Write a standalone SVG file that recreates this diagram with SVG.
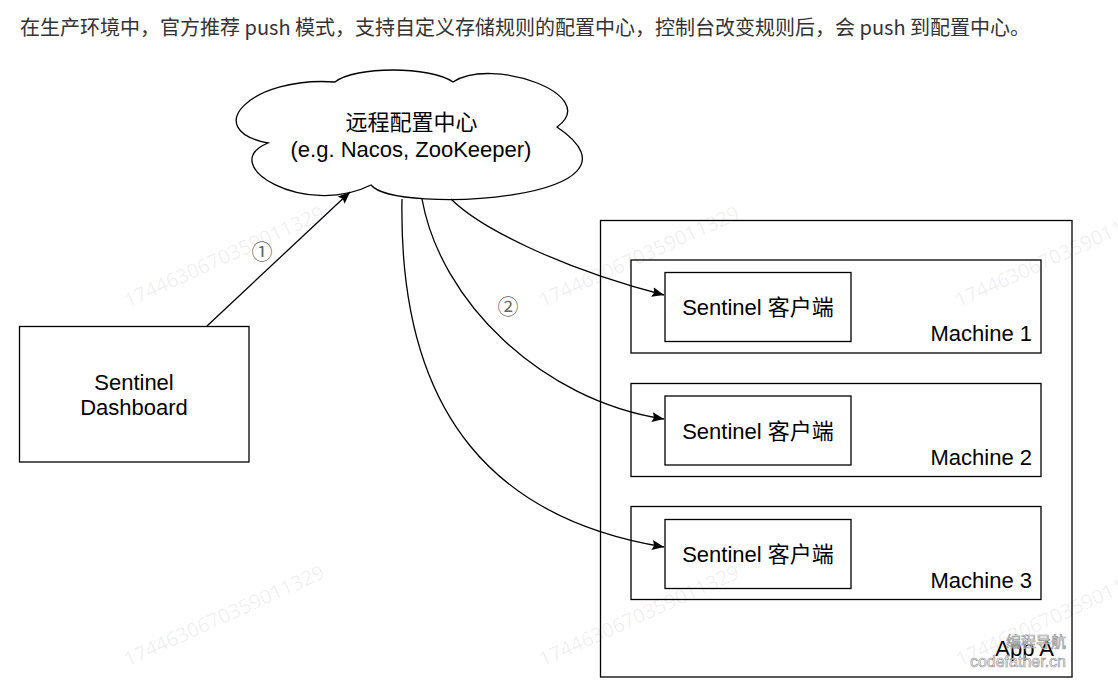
<svg xmlns="http://www.w3.org/2000/svg" width="1118" height="687" viewBox="0 0 1118 687">
<style>
  .box{fill:#fff;stroke:#000;stroke-width:1.3}
  .lbl{font-family:"Liberation Sans","Noto Sans CJK SC",sans-serif;font-size:22px;fill:#000}
  .edge{fill:none;stroke:#000;stroke-width:1.3}
  .num{font-family:"Noto Sans CJK SC","DejaVu Sans",sans-serif;font-size:21px;fill:#666}
  .wm{font-family:"Open Sans","Noto Sans",sans-serif;font-size:20px;fill:#000;fill-opacity:0.07}
</style>
<defs>
  <marker id="arr" markerUnits="userSpaceOnUse" markerWidth="14" markerHeight="12" refX="12" refY="5" orient="auto">
    <path d="M0,0 L12,5 L0,10 L2,5 Z" fill="#000"/>
  </marker>
</defs>
<rect width="1118" height="687" fill="#fff"/>
<text x="20" y="35" font-family="Noto Sans CJK SC,sans-serif" font-size="20" fill="#333">在生产环境中，官方推荐 push 模式，支持自定义存储规则的配置中心，控制台改变规则后，会 push 到配置中心。</text>

<g id="app-a">
  <rect class="box" x="600.5" y="220.5" width="471.5" height="456.5"/>
  <text class="lbl" x="1054" y="656" text-anchor="end">App A</text>
</g>
<g id="machine-1">
  <rect class="box" x="631" y="260" width="410" height="93"/>
  <text class="lbl" x="1032" y="341" text-anchor="end">Machine 1</text>
</g>
<g id="client-1">
  <rect class="box" x="665" y="272.5" width="186" height="69"/>
  <text class="lbl" x="758" y="315" text-anchor="middle">Sentinel 客户端</text>
</g>
<g id="machine-2">
  <rect class="box" x="631" y="383.5" width="410" height="93"/>
  <text class="lbl" x="1032" y="464.5" text-anchor="end">Machine 2</text>
</g>
<g id="client-2">
  <rect class="box" x="665" y="396" width="186" height="69"/>
  <text class="lbl" x="758" y="438.5" text-anchor="middle">Sentinel 客户端</text>
</g>
<g id="machine-3">
  <rect class="box" x="631" y="506.5" width="410" height="93"/>
  <text class="lbl" x="1032" y="587.5" text-anchor="end">Machine 3</text>
</g>
<g id="client-3">
  <rect class="box" x="665" y="519.5" width="186" height="69"/>
  <text class="lbl" x="758" y="562" text-anchor="middle">Sentinel 客户端</text>
</g>

<g id="dashboard">
  <rect class="box" x="19.5" y="326.5" width="229.5" height="135.5"/>
  <text class="lbl" x="134" y="390" text-anchor="middle">Sentinel</text>
  <text class="lbl" x="134" y="415" text-anchor="middle">Dashboard</text>
</g>

<g id="config-center">
  <path class="box" d="M335,82 C250,76 200,130 268,143 C215,165 305,218 371,185 C395,215 665,200 557,127 C602,95 492,56 453,82 C430,66 355,66 335,82 Z"/>
  <text class="lbl" x="411.5" y="130" text-anchor="middle">远程配置中心</text>
  <text class="lbl" x="411" y="157" text-anchor="middle">(e.g. Nacos, ZooKeeper)</text>
</g>

<g id="connectors">
  <path class="edge" d="M207,326 L350,192" marker-end="url(#arr)"/>
  <path class="edge" d="M451,199 C480,228 560,268 664,295" marker-end="url(#arr)"/>
  <path class="edge" d="M422,199 C440,300 540,400 664,419" marker-end="url(#arr)"/>
  <path class="edge" d="M402,199 C398,420 500,520 664,547" marker-end="url(#arr)"/>
  <text class="num" x="262" y="259" text-anchor="middle">①</text>
  <text class="num" x="508" y="314" text-anchor="middle">②</text>
</g>

<g id="watermarks">
  <text class="wm" transform="translate(128,308) rotate(-24.4)">1744630670359011329</text>
  <text class="wm" transform="translate(543,308) rotate(-24.4)">1744630670359011329</text>
  <text class="wm" transform="translate(959,308) rotate(-24.4)">1744630670359011329</text>
  <text class="wm" transform="translate(128,667) rotate(-24.4)">1744630670359011329</text>
  <text class="wm" transform="translate(543,667) rotate(-24.4)">1744630670359011329</text>
  <text class="wm" transform="translate(960,667) rotate(-24.4)">1744630670359011329</text>
  <text x="1066" y="647" text-anchor="end" font-family="Noto Sans CJK SC,sans-serif" font-size="15" fill="#fff" fill-opacity="0.6" stroke="#999" stroke-width="0.7">编程导航</text>
  <text x="1066" y="667" text-anchor="end" font-family="Liberation Sans,sans-serif" font-size="16" fill="#fff" fill-opacity="0.6" stroke="#999" stroke-width="0.7">codefather.cn</text>
</g>
</svg>
